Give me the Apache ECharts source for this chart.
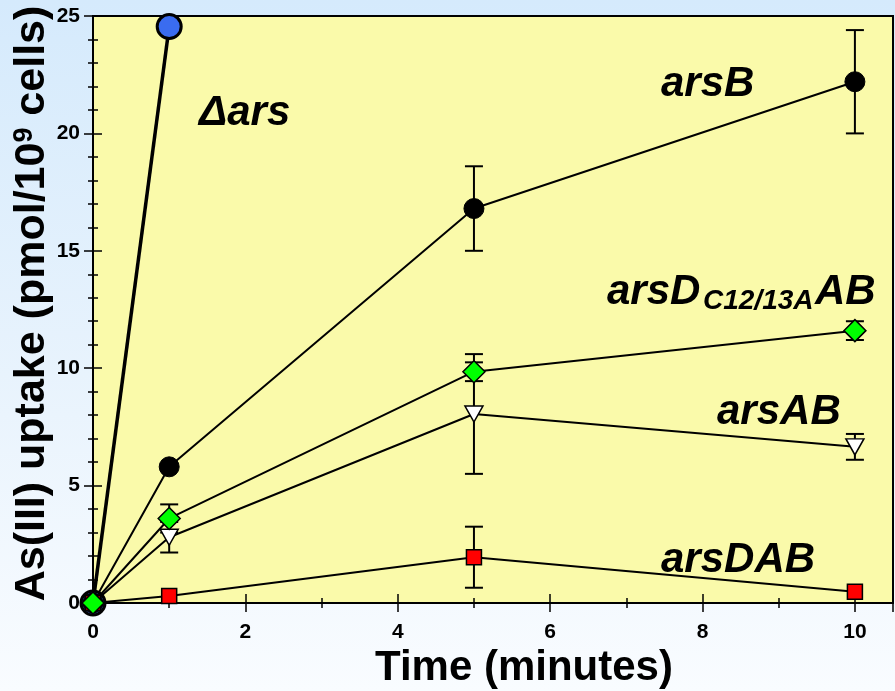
<!DOCTYPE html>
<html>
<head>
<meta charset="utf-8">
<script src="https://cdn.jsdelivr.net/npm/echarts@6/dist/echarts.min.js"></script>
<style>
  html, body { margin: 0; padding: 0; }
  #chart { width: 895px; height: 691px; }
</style>
</head>
<body>
<div id="chart"></div>
<script>
// time points (minutes)
const times = [0, 1, 5, 10];
// As(III) uptake, pmol / 10^9 cells
const deltaArs = [0, 24.55];
const arsB = [0, 5.8, 16.8, 22.2];
const arsBErr = [0, 0, 1.8, 2.2];
const arsDmutAB = [0, 3.6, 9.85, 11.6];
const arsDmutABErr = [0, 0.6, 0.4, 0.4];
const arsAB = [0, 2.8, 8.05, 6.65];
const arsABErr = [0, 0.65, 2.55, 0.55];
const arsDAB = [0, 0.3, 1.95, 0.48];
const arsDABErr = [0, 0, 1.3, 0];

const font = '"Liberation Sans", Arial, sans-serif';

function pts(ys) {
  return ys.map((y, i) => [times[i], y]);
}
function errData(ys, errs) {
  return ys.map((y, i) => [times[i], y, errs[i]]).filter(d => d[2] > 0);
}
function errSeries(ys, errs) {
  return {
    type: 'custom',
    z: 1,
    data: errData(ys, errs),
    renderItem: function (params, api) {
      const x = api.value(0), y = api.value(1), e = api.value(2);
      const top = api.coord([x, y + e]);
      const bot = api.coord([x, y - e]);
      const hw = 9;
      const st = { stroke: '#000', lineWidth: 2 };
      return {
        type: 'group',
        children: [
          { type: 'line', shape: { x1: top[0], y1: top[1], x2: bot[0], y2: bot[1] }, style: st },
          { type: 'line', shape: { x1: top[0] - hw, y1: top[1], x2: top[0] + hw, y2: top[1] }, style: st },
          { type: 'line', shape: { x1: bot[0] - hw, y1: bot[1], x2: bot[0] + hw, y2: bot[1] }, style: st }
        ]
      };
    }
  };
}

function anno(text, left, top, size) {
  return {
    type: 'text', left: left, top: top, z: 10,
    style: { text: text, fontFamily: font, fontWeight: 'bold', fontStyle: 'italic', fontSize: size || 42, fill: '#000' }
  };
}

const tickStyle = { color: '#000', width: 1.5 };

const chart = echarts.init(document.getElementById('chart'));
chart.setOption({
  animation: false,
  backgroundColor: new echarts.graphic.LinearGradient(0, 0, 0, 1, [
    { offset: 0, color: '#d5eafc' },
    { offset: 0.6, color: '#eaf4fd' },
    { offset: 1, color: '#f9fcff' }
  ]),
  grid: {
    left: 93, right: 2, top: 16, bottom: 88,
    outerBoundsMode: 'none',
    containLabel: false,
    show: true,
    backgroundColor: '#fafaaa',
    borderColor: '#000',
    borderWidth: 2
  },
  xAxis: [
    {
      type: 'value', min: 0, max: 10.5, interval: 2,
      name: 'Time (minutes)',
      nameLocation: 'middle',
      nameGap: 41,
      nameTextStyle: { fontFamily: font, fontWeight: 'bold', fontSize: 42, color: '#000', padding: [0, 0, 0, 62] },
      axisLine: { lineStyle: { color: '#000', width: 2 } },
      axisTick: { inside: true, length: 9, lineStyle: tickStyle },
      minorTick: { show: true, splitNumber: 2, length: 5, lineStyle: tickStyle },
      axisLabel: {
        margin: 19, fontFamily: font, fontWeight: 'bold', fontSize: 21, color: '#000',
        showMaxLabel: false,
        formatter: v => (v % 2 === 0 ? String(v) : '')
      },
      splitLine: { show: false }
    },
    {
      type: 'value', min: 0, max: 10.5, interval: 2, position: 'top',
      axisLine: { show: true, lineStyle: { color: '#000', width: 2 } },
      axisTick: { inside: true, length: 9, lineStyle: tickStyle },
      minorTick: { show: true, splitNumber: 2, length: 5, lineStyle: tickStyle },
      axisLabel: { show: false },
      splitLine: { show: false }
    }
  ],
  yAxis: [
    {
      type: 'value', min: 0, max: 25, interval: 5,
      name: 'As(III) uptake (pmol/10{sup|9} cells)',
      nameLocation: 'middle',
      nameMoveOverlap: false,
      nameGap: 39,
      nameTextStyle: {
        fontFamily: font, fontWeight: 'bold', fontSize: 43, color: '#000',
        padding: [0, 0, 0, 12],
        rich: {
          sup: { fontFamily: font, fontWeight: 'bold', fontSize: 27, lineHeight: 27, verticalAlign: 'top', color: '#000' }
        }
      },
      axisLine: { show: true, lineStyle: { color: '#000', width: 2 } },
      axisTick: { inside: true, length: 9, lineStyle: tickStyle },
      minorTick: { show: true, splitNumber: 5, length: 5, lineStyle: tickStyle },
      axisLabel: { margin: 13, fontFamily: font, fontWeight: 'bold', fontSize: 21, color: '#000' },
      splitLine: { show: false }
    },
    {
      type: 'value', min: 0, max: 25, interval: 5, position: 'right',
      axisLine: { show: true, lineStyle: { color: '#000', width: 2 } },
      axisTick: { inside: true, length: 9, lineStyle: tickStyle },
      minorTick: { show: true, splitNumber: 5, length: 5, lineStyle: tickStyle },
      axisLabel: { show: false },
      splitLine: { show: false }
    }
  ],
  series: [
    errSeries(arsB, arsBErr),
    errSeries(arsAB, arsABErr),
    errSeries(arsDAB, arsDABErr),
    errSeries(arsDmutAB, arsDmutABErr),
    {
      name: 'Δars', type: 'line', z: 3,
      data: pts(deltaArs),
      symbol: 'circle', symbolSize: 24, showAllSymbol: true,
      lineStyle: { color: '#000', width: 3.5 },
      itemStyle: { color: '#3a6cf0', borderColor: '#000', borderWidth: 3 }
    },
    {
      name: 'arsB', type: 'line', z: 3,
      data: pts(arsB),
      symbol: 'circle', symbolSize: 20,
      lineStyle: { color: '#000', width: 2 },
      itemStyle: { color: '#000', borderColor: '#000', borderWidth: 1 }
    },
    {
      name: 'arsAB', type: 'line', z: 3,
      data: pts(arsAB),
      symbol: 'triangle', symbolRotate: 180, symbolSize: [18, 16],
      lineStyle: { color: '#000', width: 2 },
      itemStyle: { color: '#fff', borderColor: '#000', borderWidth: 1.5 }
    },
    {
      name: 'arsDAB', type: 'line', z: 3,
      data: pts(arsDAB),
      symbol: 'rect', symbolSize: 15,
      lineStyle: { color: '#000', width: 2 },
      itemStyle: { color: '#ff0000', borderColor: '#000', borderWidth: 1.5 }
    },
    {
      name: 'arsDC12/13AAB', type: 'line', z: 3,
      data: pts(arsDmutAB),
      symbol: 'diamond', symbolSize: [22, 22],
      lineStyle: { color: '#000', width: 2 },
      itemStyle: { color: '#00ff00', borderColor: '#000', borderWidth: 1.5 }
    }
  ],
  graphic: [
    anno('Δars', 199, 92),
    anno('arsB', 661, 63),
    anno('arsAB', 717, 391),
    anno('arsDAB', 661, 539),
    anno('arsD', 607, 271),
    anno('C12/13A', 703, 287, 28),
    anno('AB', 815, 271)
  ]
});
</script>
</body>
</html>
